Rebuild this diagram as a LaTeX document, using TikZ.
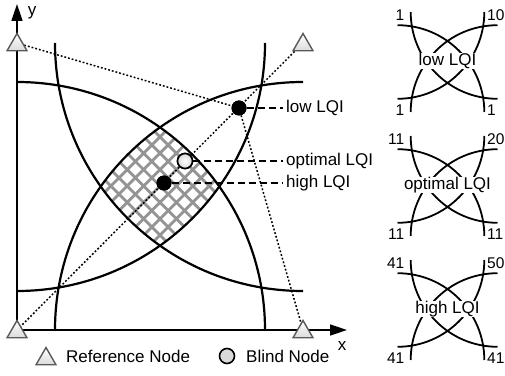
\documentclass[tikz,border=0pt]{standalone}
\usepackage{fontspec}
\setmainfont{Liberation Sans}
\usetikzlibrary{arrows.meta,shapes.geometric}
\begin{document}
\begin{tikzpicture}[x=1pt,y=1pt,
  arcline/.style={line width=2.2pt},
  miniarc/.style={line width=1.8pt},
  axisline/.style={line width=1.7pt,-{Triangle[length=17pt,width=11pt]}},
  refnode/.style={regular polygon,regular polygon sides=3,minimum size=23pt,inner sep=0pt,draw=black!65,line width=1.4pt,top color=white,bottom color=black!14},
  dotline/.style={line width=1.5pt,dash pattern=on 1.8pt off 2pt},
  dashline/.style={line width=1.4pt,dash pattern=on 7pt off 4pt},
  hatch/.style={line width=2.8pt,draw=black!42},
  bigdot/.style={circle,fill=black,minimum size=15pt,inner sep=0pt},
  optdot/.style={circle,draw=black,line width=1.6pt,inner color=white,outer color=black!15,minimum size=15pt,inner sep=0pt},
  lbl/.style={font=\fontsize{17}{20}\selectfont,inner sep=0pt},
  num/.style={font=\fontsize{15.5}{18}\selectfont,inner sep=0pt},
]
\useasboundingbox (0,0) rectangle (505,375);

% reference positions
\coordinate (TL) at (17,332);
\coordinate (TR) at (303,332);
\coordinate (BL) at (17,45);
\coordinate (BR) at (303,45);
\coordinate (O) at (17,45);
\coordinate (ytip) at (17,371);
\coordinate (xtip) at (347,45);

% hatched intersection region
\begin{scope}
  \clip (BL) circle[radius=248];
  \clip (BR) circle[radius=248];
  \clip (TL) circle[radius=248];
  \clip (TR) circle[radius=248];
  \begin{scope}[shift={(160,189)},rotate=45]
    \foreach \k in {-10,...,10} {
      \draw[hatch] (\k*11.6,-130) -- (\k*11.6,130);
      \draw[hatch] (-130,\k*11.6) -- (130,\k*11.6);
    }
  \end{scope}
\end{scope}

% dots (positions)
\node[bigdot] (low) at (239,267) {};
\node[optdot] (opt) at (185,214) {};
\node[bigdot] (high) at (164,192) {};

% dotted lines
\draw[dotline] (BL) -- (TR);
\draw[dotline] (TL) -- (low);
\draw[dotline] (low) -- (BR);

% arcs
\draw[arcline] (17,293) arc[start angle=90,end angle=0,radius=248];
\draw[arcline] (303,293) arc[start angle=90,end angle=180,radius=248];
\draw[arcline] (55,332) arc[start angle=180,end angle=270,radius=248];
\draw[arcline] (265,332) arc[start angle=0,end angle=-90,radius=248];

% axes
\draw[axisline] (O) -- (ytip);
\draw[axisline] (O) -- (xtip);
\node[lbl] (ylab) at (32,362) {y};
\node[lbl] (xlab) at (342,29) {x};

% reference nodes
\node[refnode,yshift=-2pt] (rTL) at (TL) {};
\node[refnode,yshift=-2pt] (rTR) at (TR) {};
\node[refnode,yshift=-2pt] (rBL) at (BL) {};
\node[refnode,yshift=-2pt] (rBR) at (BR) {};

% dots on top
\node[bigdot] at (low) {};
\node[optdot] at (opt) {};
\node[bigdot] at (high) {};

% labels
\node[lbl,anchor=west] (lowL) at (286,267) {low LQI};
\node[lbl,anchor=west] (optL) at (286,214) {optimal LQI};
\node[lbl,anchor=west] (highL) at (286,192) {high LQI};
\draw[dashline,shorten >=3pt] (low) -- (lowL.west);
\draw[dashline,shorten >=3pt] (opt) -- (optL.west);
\draw[dashline,shorten >=3pt] (high) -- (highL.west);

% legend
\node[refnode] (legT) at (46,16) {};
\node[lbl,anchor=west] (legTL) at (66,19) {Reference Node};
\node[circle,draw=black,line width=1.6pt,fill=black!15,minimum size=15pt,inner sep=0pt] (legB) at (227,19) {};
\node[lbl,anchor=west] (legBL) at (246,19) {Blind Node};

% mini diagrams
\foreach \cy/\txt/\a/\b/\c/\d in {313/low LQI/1/10/1/1, 189/optimal LQI/11/20/11/11, 65/high LQI/41/50/41/41} {
  \begin{scope}[shift={(447.5,\cy)}]
    \draw[miniarc] (-50,36.8) arc[start angle=90,end angle=0,radius=86.8];
    \draw[miniarc] (50,36.8) arc[start angle=90,end angle=180,radius=86.8];
    \draw[miniarc] (-36.8,50) arc[start angle=180,end angle=270,radius=86.8];
    \draw[miniarc] (36.8,50) arc[start angle=0,end angle=-90,radius=86.8];
    \node[lbl,fill=white,inner sep=0.5pt] (mc) at (0,1) {\txt};
    \node[num,anchor=east] (ma) at (-43,47) {\a};
    \node[num,anchor=west] (mb) at (39.5,47) {\b};
    \node[num,anchor=east] (mc2) at (-43,-48) {\c};
    \node[num,anchor=west] (md) at (39.5,-48) {\d};
  \end{scope}
}
\end{tikzpicture}
\end{document}
